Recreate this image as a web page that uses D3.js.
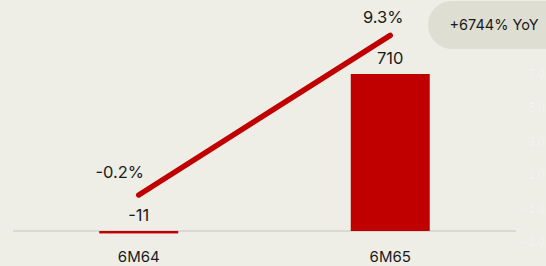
<!DOCTYPE html>
<html><head><meta charset="utf-8">
<script src="https://cdn.jsdelivr.net/npm/d3@7"></script>
<style>
html,body{margin:0;padding:0;background:#eeede6;}
svg{display:block;font-family:Inter,"Liberation Sans",sans-serif;}
</style></head><body>
<svg id="c" width="546" height="266"></svg>
<script>
const categories = ["6M64", "6M65"];
const barValues = [-11, 710];
const barLabels = ["-11", "710"];
const lineValues = [-0.2, 9.3];
const lineLabels = ["-0.2%", "9.3%"];
const rightTicks = [7.0, 5.0, 3.0, 1.0, -1.0, -3.0];
const badgeText = "+6744% YoY";

const svg = d3.select("#c");
const W = 546, H = 266;
svg.append("rect").attr("width", W).attr("height", H).attr("fill", "#eeede6");

const x = d3.scaleBand().domain(categories).range([13, 516]).paddingInner(0.686).paddingOuter(0.343);
const y = d3.scaleLinear().domain([0, 710]).range([231, 74]);
const y2 = d3.scaleLinear().domain([-3, 7]).range([242, 74]);

// faint right axis
const ax = svg.append("g").attr("transform", "translate(545,0)")
  .call(d3.axisLeft(y2).tickValues(rightTicks).tickFormat(d3.format(".1f")).tickSize(0).tickPadding(0));
ax.select(".domain").remove();
ax.selectAll("text").attr("fill", "#f4f3ee").attr("font-size", 12).attr("text-anchor", "end");

// baseline
svg.append("line").attr("x1", 13).attr("x2", 516).attr("y1", y(0)).attr("y2", y(0))
  .attr("stroke", "#d8d8d6").attr("stroke-width", 2);

// bars
svg.selectAll("rect.bar").data(barValues).join("rect").attr("class", "bar")
  .attr("x", (d, i) => x(categories[i]))
  .attr("width", x.bandwidth())
  .attr("y", d => Math.min(y(d), y(0)))
  .attr("height", d => Math.abs(y(d) - y(0)))
  .attr("fill", "#c00000");

// line
const line = d3.line().x((d, i) => x(categories[i]) + x.bandwidth() / 2).y(d => y2(d));
svg.append("path").attr("d", line(lineValues)).attr("fill", "none")
  .attr("stroke", "#c00000").attr("stroke-width", 5.5).attr("stroke-linecap", "round");

// bar labels
svg.selectAll("text.bl").data(barLabels).join("text").attr("class", "bl")
  .attr("x", (d, i) => x(categories[i]) + x.bandwidth() / 2)
  .attr("y", (d, i) => barValues[i] >= 0 ? y(barValues[i]) - 10 : 221)
  .attr("text-anchor", "middle").attr("font-size", 16.5).attr("fill", "#1a1a1a").text(d => d);

// line labels
svg.selectAll("text.ll").data(lineLabels).join("text").attr("class", "ll")
  .attr("x", (d, i) => x(categories[i]) + x.bandwidth() / 2 + (i === 0 ? -19 : -7))
  .attr("y", (d, i) => y2(lineValues[i]) - (i === 0 ? 17 : 12))
  .attr("text-anchor", "middle").attr("font-size", 16.5).attr("fill", "#1a1a1a").text(d => d);

// category labels
svg.selectAll("text.cat").data(categories).join("text").attr("class", "cat")
  .attr("x", d => x(d) + x.bandwidth() / 2).attr("y", 262)
  .attr("text-anchor", "middle").attr("font-size", 15).attr("fill", "#1a1a1a").text(d => d);

// badge
svg.append("rect").attr("x", 428).attr("y", 1).attr("width", 150).attr("height", 48).attr("rx", 24)
  .attr("fill", "#deded3");
svg.append("text").attr("x", 494).attr("y", 30).attr("text-anchor", "middle")
  .attr("font-size", 14.5).attr("fill", "#1a1a1a").text(badgeText);
</script>
</body></html>
